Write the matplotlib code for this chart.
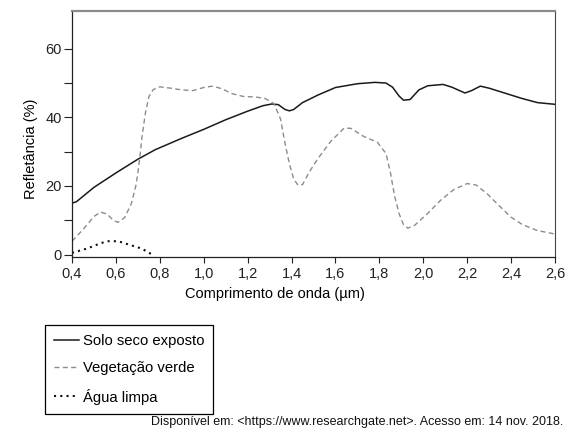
import matplotlib
matplotlib.use("Agg")
from matplotlib import pyplot as plt

plt.rcParams['font.family'] = ['Liberation Sans', 'DejaVu Sans']

# wavelength (um) and reflectance (%)
soil_wl = [0.40, 0.42, 0.50, 0.60, 0.70, 0.78, 0.90, 1.00, 1.10, 1.20, 1.27, 1.31, 1.34,
           1.37, 1.39, 1.41, 1.45, 1.52, 1.60, 1.70, 1.78, 1.83, 1.86, 1.89, 1.91, 1.94,
           1.98, 2.02, 2.09, 2.13, 2.19, 2.22, 2.26, 2.30, 2.38, 2.45, 2.52, 2.60]
soil_refl = [15.0, 15.4, 19.6, 23.8, 27.8, 30.6, 33.9, 36.5, 39.3, 41.8, 43.4, 43.9, 43.7,
             42.3, 41.9, 42.3, 44.3, 46.5, 48.7, 49.8, 50.2, 50.0, 48.8, 46.2, 45.0, 45.2,
             48.0, 49.2, 49.6, 48.8, 47.1, 47.8, 49.1, 48.5, 46.9, 45.5, 44.3, 43.8]

veg_wl = [0.40, 0.45, 0.50, 0.53, 0.56, 0.59, 0.61, 0.64, 0.67, 0.69, 0.70, 0.71, 0.72,
          0.735, 0.75, 0.77, 0.80, 0.85, 0.90, 0.95, 1.00, 1.04, 1.08, 1.13, 1.18, 1.24,
          1.28, 1.32, 1.35, 1.37, 1.39, 1.41, 1.43, 1.45, 1.48, 1.52, 1.58, 1.64, 1.67,
          1.73, 1.79, 1.83, 1.85, 1.87, 1.89, 1.91, 1.93, 1.96, 2.02, 2.08, 2.14, 2.20,
          2.24, 2.29, 2.34, 2.40, 2.45, 2.52, 2.60]
veg_refl = [3.9, 7.3, 11.1, 12.4, 11.8, 9.9, 9.4, 10.8, 14.8, 19.8, 23.8, 28.9, 34.9,
            41.5, 46.0, 48.1, 48.9, 48.5, 48.0, 47.8, 48.7, 49.1, 48.4, 46.9, 46.1, 45.9,
            45.5, 44.0, 39.5, 32.5, 26.5, 22.0, 20.2, 20.4, 24.0, 28.0, 33.1, 36.9, 36.8,
            34.4, 32.8, 29.5, 24.0, 16.9, 11.9, 8.7, 7.7, 8.5, 12.0, 15.9, 19.0, 20.7,
            20.3, 17.8, 14.6, 10.9, 8.8, 7.0, 6.0]

water_wl = [0.40, 0.47, 0.53, 0.56, 0.61, 0.66, 0.72, 0.75, 0.77]
water_refl = [0.5, 1.8, 3.3, 3.9, 3.9, 2.9, 1.7, 0.5, 0.0]

x_ticks = [0.4, 0.6, 0.8, 1.0, 1.2, 1.4, 1.6, 1.8, 2.0, 2.2, 2.4, 2.6]
x_tick_labels = ["0,4", "0,6", "0,8", "1,0", "1,2", "1,4", "1,6", "1,8", "2,0", "2,2", "2,4", "2,6"]
y_ticks = [0, 10, 20, 30, 40, 50, 60]
y_tick_labels = ["0", "", "20", "", "40", "", "60"]

labels = ["Solo seco exposto", "Vegetação verde", "Água limpa"]

fig = plt.figure(figsize=(5.7, 4.41), dpi=100)
ax = fig.add_axes([72 / 570, 1 - 257 / 441, 483 / 570, 246 / 441])

# the three curves
l1, = ax.plot(soil_wl, soil_refl, color='#1a1a1a', lw=1.1)
l2, = ax.plot(veg_wl, veg_refl, color='#8c8c8c', lw=1.0, dashes=(3.6, 2.4))
l3, = ax.plot(water_wl, water_refl, color='#111111', lw=1.5, dashes=(1, 2))

ax.set_xlim(0.4, 2.6)
ax.set_ylim(-0.7, 71)
ax.set_xticks(x_ticks)
ax.set_xticklabels(x_tick_labels)
ax.set_yticks(y_ticks)
ax.set_yticklabels(y_tick_labels)
ax.tick_params(axis='both', direction='out', labelsize=10.5, colors='#222222', width=0.8)
ax.tick_params(axis='y', length=6, pad=1.5)
ax.tick_params(axis='x', length=4.5, pad=3)

# spines: grey heavy top, dark others
ax.spines['top'].set_color('#8a8a8a')
ax.spines['top'].set_linewidth(1.6)
ax.spines['right'].set_color('#444444')
ax.spines['right'].set_linewidth(0.8)
for s in ['left', 'bottom']:
    ax.spines[s].set_color('#222222')
    ax.spines[s].set_linewidth(0.9)

ax.set_xlabel("Comprimento de onda (µm)", fontsize=10.5, va='center')
ax.xaxis.set_label_coords(0.42, -0.150)
ax.set_ylabel("Refletância (%)", fontsize=10.5, va='center')
ax.yaxis.set_label_coords(-0.085, 0.44)

leg = fig.legend([l1, l2, l3], labels, loc='upper left',
                 bbox_to_anchor=(45 / 570, 1 - 325 / 441), borderaxespad=0,
                 fontsize=10.7, fancybox=False, framealpha=1, edgecolor='black',
                 handlelength=1.7, handletextpad=0.25, labelspacing=0.9,
                 borderpad=0.6)
leg.get_frame().set_linewidth(0.9)

fig.text(563 / 570, 1 - 422 / 441,
         "Disponível em: <https://www.researchgate.net>. Acesso em: 14 nov. 2018.",
         ha='right', va='center', fontsize=9, color='#111111')

fig.savefig("out.png", dpi=100)
